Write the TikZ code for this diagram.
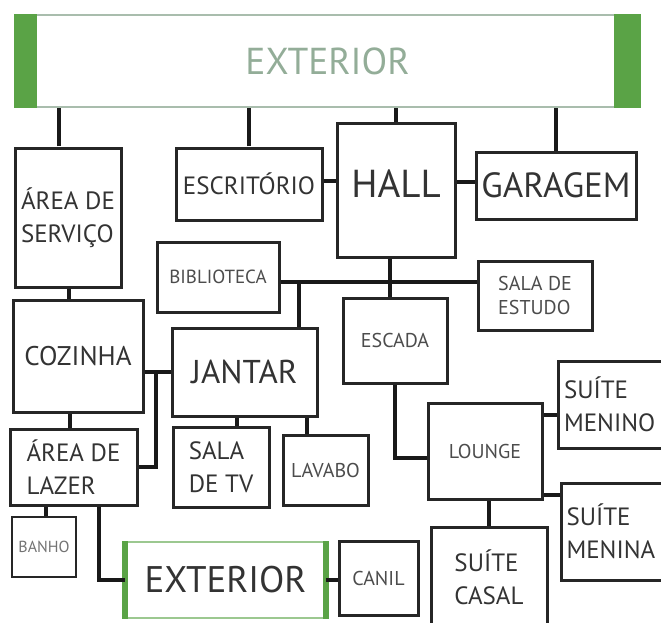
\documentclass[tikz,border=0pt]{standalone}
\usepackage{fontspec}
\setmainfont{PT Sans}
\usetikzlibrary{positioning}
\definecolor{exgreen}{HTML}{5AA346}
\definecolor{exgray}{HTML}{93AD98}

\begin{document}
\begin{tikzpicture}[x=1pt, y=-1pt,
    room/.style={draw=black!85, line width=3pt, inner sep=0pt, align=left, text=black!80, font=\fontsize{25}{33}\selectfont},
    small/.style={font=\fontsize{20}{24}\selectfont, text=black!70},
    link/.style={line width=3.5pt, black!90}]
    \useasboundingbox (0,0) rectangle (661,623);

    % top exterior
    \node[draw=exgray!80, line width=2pt, minimum width=625pt, minimum height=92pt, text=exgray, font=\fontsize{37.5}{40}\selectfont] (ext) at (327.5,61) {EXTERIOR};
    \fill[exgreen] (ext.north west) rectangle ([xshift=23pt]ext.south west);
    \fill[exgreen] ([xshift=-27pt]ext.north east) rectangle (ext.south east);

    % first row
    \node[room, minimum width=106pt, minimum height=139pt] (serv) at (68,217.5) {ÁREA DE\\SERVIÇO};
    \node[room, minimum width=146pt, minimum height=72pt] (escr) at (249,184) {ESCRITÓRIO};
    \node[room, minimum width=118pt, minimum height=133pt, text depth=13pt, font=\fontsize{39}{42}\selectfont] (hall) at (396,190.5) {HALL};
    \node[room, minimum width=160pt, minimum height=67pt, font=\fontsize{35}{38}\selectfont] (gar) at (556,185.5) {GARAGEM};

    % middle
    \node[room, small, minimum width=122pt, minimum height=70pt, font=\fontsize{19}{22}\selectfont] (bib) at (218,277) {BIBLIOTECA};
    \node[room, small, minimum width=114pt, minimum height=69pt] (estudo) at (535,295.5) {SALA DE\\ESTUDO};
    \node[room, small, minimum width=104pt, minimum height=85pt] (escada) at (395,340.5) {ESCADA};
    \node[room, minimum width=130pt, minimum height=112pt, font=\fontsize{27}{30}\selectfont] (coz) at (78,356) {COZINHA};
    \node[room, minimum width=145pt, minimum height=88pt, font=\fontsize{33}{36}\selectfont] (jantar) at (244.5,372) {JANTAR};

    % lower left
    \node[room, minimum width=127pt, minimum height=76pt] (lazer) at (73.5,467) {ÁREA DE\\LAZER};
    \node[room, minimum width=96pt, minimum height=80pt] (tv) at (221,467) {SALA\\DE TV};
    \node[room, small, minimum width=85pt, minimum height=70pt] (lavabo) at (325.5,470) {LAVABO};
    \node[room, small, line width=1.8pt, minimum width=64pt, minimum height=60pt, font=\fontsize{16}{18}\selectfont, text=black!55] (banho) at (44,547) {BANHO};

    % bottom exterior
    \node[draw=exgreen!60, line width=1.8pt, minimum width=199pt, minimum height=76pt, text=black!80, font=\fontsize{37}{40}\selectfont] (ext2) at (225.5,580) {EXTERIOR};
    \draw[exgreen, line width=6pt] (ext2.north west) -- (ext2.south west);
    \draw[exgreen, line width=6pt] (ext2.north east) -- (ext2.south east);
    \node[room, small, minimum width=79pt, minimum height=74pt] (canil) at (378.5,578) {CANIL};

    % private wing
    \node[room, small, minimum width=114pt, minimum height=96pt] (lounge) at (485,451) {LOUNGE};
    \node[room, minimum width=110pt, minimum height=87pt, text width=98pt] (menino) at (613,404.5) {SUÍTE\\MENINO};
    \node[room, minimum width=107pt, minimum height=97pt, text width=96pt] (menina) at (614.5,531.5) {SUÍTE\\MENINA};
    \node[room, minimum width=116pt, minimum height=100pt] (casal) at (489,577) {SUÍTE\\CASAL};

    % links to exterior
    \draw[link] ([xshift=-9pt]serv.north) -- ([xshift=-9pt]serv.north |- ext.south);
    \draw[link] (escr.north) -- (escr.north |- ext.south);
    \draw[link] (hall.north) -- (hall.north |- ext.south);
    \draw[link] (gar.north) -- (gar.north |- ext.south);

    % hall links
    \draw[link] ([yshift=3pt]escr.east) -- ([yshift=3pt]escr.east -| hall.west);
    \draw[link] ([yshift=3.5pt]gar.west) -- ([yshift=3.5pt]gar.west -| hall.east);
    \coordinate (hub) at (390,282);
    \coordinate (bibj) at (299,282);
    \draw[link] (hub |- hall.south) -- (hub |- escada.north);
    \draw[link] (bib.east |- hub) -- (estudo.west |- hub);
    \draw[link] (bibj) -- (bibj |- jantar.north);

    % service side
    \draw[link] ([xshift=1pt]serv.south) -- ([xshift=1pt]serv.south |- coz.north);
    \draw[link] (coz.east |- jantar.west) -- (jantar.west);
    \coordinate (jn) at (156,372);
    \draw[link] (jn) |- (lazer.east);
    \draw[link] ([xshift=-8pt]coz.south) -- ([xshift=-8pt]coz.south |- lazer.north);
    \draw[link] ([xshift=16pt]tv.north) -- ([xshift=16pt]tv.north |- jantar.south);
    \draw[link] ([xshift=-18.5pt]lavabo.north) -- ([xshift=-18.5pt]lavabo.north |- jantar.south);
    \draw[link] ([xshift=2pt]banho.north) -- ([xshift=2pt]banho.north |- lazer.south);
    \draw[link] ([xshift=25.5pt]lazer.south) |- (ext2.west);
    \draw[link] (ext2.east) -- (ext2.east -| canil.west);

    % private wing links
    \draw[link] (escada.south) |- ([yshift=-7pt]lounge.west);
    \draw[link] ([yshift=-10.5pt]menino.west) -- ([yshift=-10.5pt]menino.west -| lounge.east);
    \draw[link] ([yshift=36.5pt]menina.west) -- ([yshift=36.5pt]menina.west -| lounge.east);
    \draw[link] (casal.north) -- (casal.north |- lounge.south);
\end{tikzpicture}
\end{document}
